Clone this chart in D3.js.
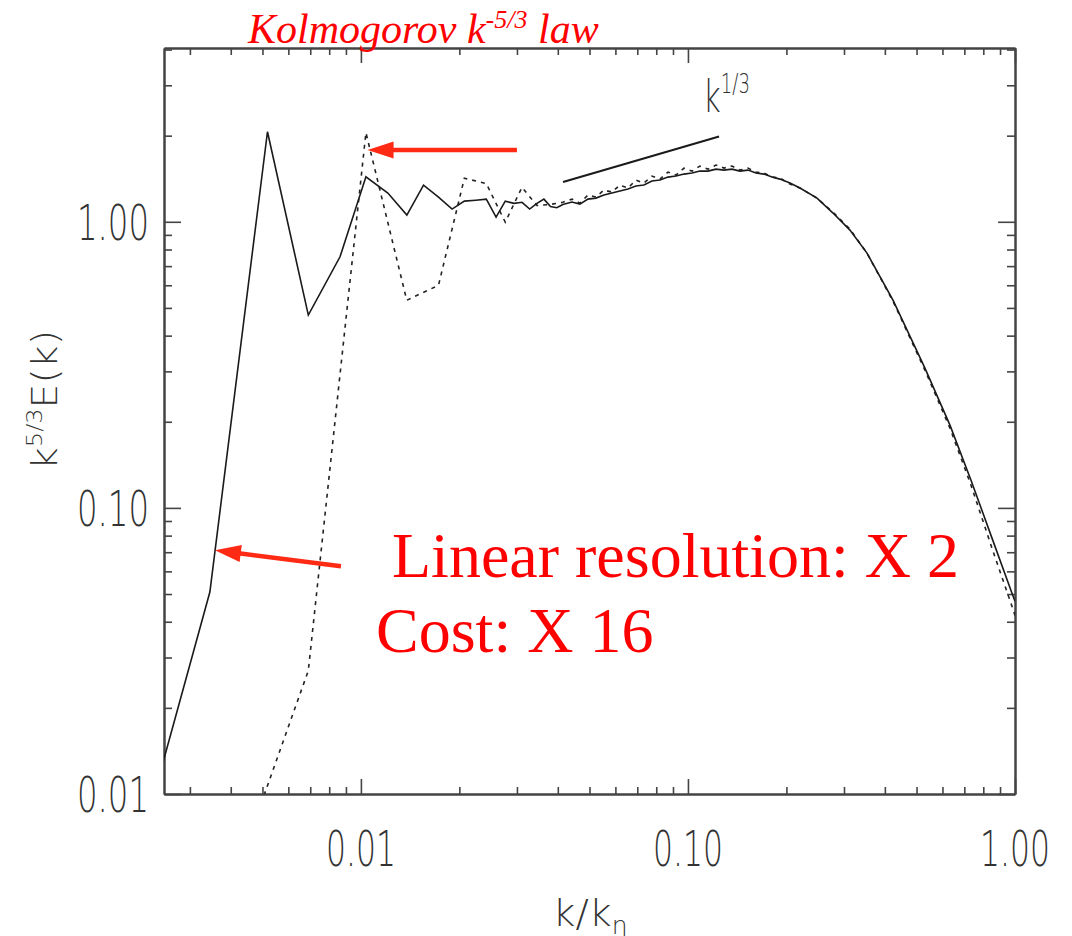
<!DOCTYPE html>
<html lang="en">
<head>
    <meta charset="utf-8">
    <title>Kolmogorov spectrum</title>
    <script src="https://d3js.org/d3.v7.min.js" charset="utf-8"></script>
    <style type="text/css">
        body { margin: 0; background: #fff; }
        .ax .domain { stroke: #444; stroke-width: 2; }
        .ax .tick line { stroke: #444; stroke-width: 1.6; }
        .lbl { font-family: "DejaVu Sans", sans-serif; font-weight: 200; fill: #333; }
        .red { font-family: "Liberation Serif", "Times New Roman", serif; fill: #ff0000; }
    </style>
</head>
<body>
	<svg width="1072" height="936"></svg>
	<script>

	    // higher resolution run (solid)
	    var solidK = [0.001727, 0.003453, 0.00518, 0.006906, 0.008633, 0.01036, 0.01209, 0.01382, 0.01554, 0.01727,
	                  0.019, 0.02072, 0.02245, 0.02418, 0.0259, 0.02763, 0.02936, 0.03109, 0.03281, 0.03454,
	                  0.03627, 0.03799, 0.03972, 0.04145,
	                  0.04419, 0.04673, 0.04945, 0.05232, 0.05535, 0.05855, 0.06194, 0.06554, 0.06934, 0.07334,
	                  0.07761, 0.08211, 0.08686, 0.0919, 0.09723, 0.1029, 0.1088, 0.1151, 0.1218, 0.1289,
	                  0.1363, 0.1442, 0.1526, 0.1614, 0.1708, 0.1807, 0.1911, 0.2051, 0.22,
	                  0.2481, 0.2777, 0.3128, 0.3527, 0.4236, 0.5304, 0.6326, 0.7336, 0.8505, 0.979, 1.0];
	    var solidE = [0.00286, 0.0508, 2.064, 0.472, 0.7545, 1.436, 1.26, 1.055, 1.343, 1.22,
	                  1.108, 1.181, 1.19, 1.2, 1.039, 1.181, 1.16, 1.17, 1.108, 1.16,
	                  1.2, 1.13, 1.12, 1.15,
	                  1.172, 1.153, 1.20, 1.21, 1.24, 1.26, 1.281, 1.301, 1.333, 1.344,
	                  1.388, 1.399, 1.433, 1.445, 1.468, 1.48, 1.504, 1.504, 1.528, 1.516,
	                  1.528, 1.504, 1.516, 1.48, 1.468, 1.433, 1.41, 1.366, 1.312,
	                  1.21, 1.073, 0.935, 0.777, 0.532, 0.308, 0.1946, 0.125, 0.0784, 0.0503, 0.0472];

	    // lower resolution run (dashed)
	    var dashK = [0.003453, 0.006906, 0.01036, 0.01381, 0.01727, 0.02072, 0.02418, 0.02763, 0.03108, 0.03453,
	                 0.03799, 0.04144,
	                 0.04419, 0.04673, 0.04945, 0.05232, 0.05535, 0.05855, 0.06194, 0.06554, 0.06934, 0.07334,
	                 0.07761, 0.08211, 0.08686, 0.0919, 0.09723, 0.1029, 0.1088, 0.1151, 0.1218, 0.1289,
	                 0.1363, 0.1442, 0.1526, 0.1614, 0.1708, 0.1807, 0.1911, 0.2051, 0.22,
	                 0.2481, 0.2777, 0.3128, 0.3527, 0.4236, 0.5304, 0.6326, 0.7336, 0.8505, 0.979, 1.0];
	    var dashE = [0.0029, 0.027, 2.05, 0.532, 0.60, 1.42, 1.36, 0.997, 1.32, 1.14,
	                 1.15, 1.17,
	                 1.20, 1.162, 1.24, 1.22, 1.291, 1.27, 1.344, 1.312, 1.399, 1.366,
	                 1.445, 1.41, 1.492, 1.457, 1.541, 1.504, 1.566, 1.528, 1.579, 1.541,
	                 1.566, 1.516, 1.541, 1.492, 1.48, 1.433, 1.422, 1.355, 1.312,
	                 1.21, 1.08, 0.943, 0.777, 0.528, 0.303, 0.190, 0.1201, 0.0723, 0.0453, 0.0421];

	    var xTicks = [0.01, 0.1, 1],
	        xLabels = ["0.01", "0.10", "1.00"];
	    var yTicks = [0.01, 0.1, 1],
	        yLabels = ["0.01", "0.10", "1.00"];

	    // k^(1/3) reference segment
	    var refK = [0.0415, 0.1245],
	        refE0 = 1.377;

	    var svg = d3.select("svg"),
	        pLeft = 164, pTop = 48, pRight = 1015, pBottom = 794;

	    var xScale = d3.scaleLog().domain([0.0025, 1]).range([pLeft, pRight]),
	        yScale = d3.scaleLog().domain([0.01, 4.05]).range([pBottom, pTop]);

	    function minors(lo, hi) {
	        var out = [];
	        for (var p = -3; p <= 1; p++)
	            for (var m = 2; m <= 9; m++) {
	                var v = +(m * Math.pow(10, p)).toPrecision(6);
	                if (v > lo && v < hi) out.push(v);
	            }
	        return out;
	    }
	    var xMin = minors(0.0025, 1), yMin = minors(0.01, 4.05);

	    svg.append("clipPath").attr("id", "clip")
	       .append("rect").attr("x", pLeft).attr("y", pTop)
	       .attr("width", pRight - pLeft).attr("height", pBottom - pTop);

	    // box axes, ticks pointing inward on all four sides
	    function axes(axisFn, scale, tr, major, minor, big, small) {
	        svg.append("g").attr("class", "ax").attr("transform", tr)
	           .call(axisFn(scale).tickValues(major).tickSize(-big).tickSizeOuter(0).tickFormat(""));
	        svg.append("g").attr("class", "ax").attr("transform", tr)
	           .call(axisFn(scale).tickValues(minor).tickSize(-small).tickSizeOuter(0).tickFormat(""));
	    }
	    axes(d3.axisBottom, xScale, "translate(0," + pBottom + ")", xTicks, xMin, 15, 7);
	    axes(d3.axisTop, xScale, "translate(0," + pTop + ")", xTicks, xMin, 15, 7);
	    axes(d3.axisLeft, yScale, "translate(" + pLeft + ",0)", yTicks, yMin, 17, 8);
	    axes(d3.axisRight, yScale, "translate(" + pRight + ",0)", yTicks, yMin, 17, 8);

	    svg.selectAll(".xl").data(xTicks).enter().append("text")
	       .attr("class", "lbl")
	       .attr("x", function(d) { return xScale(d); })
	       .attr("y", 866)
	       .attr("text-anchor", "middle")
	       .attr("font-size", 49)
	       .attr("textLength", 70).attr("lengthAdjust", "spacingAndGlyphs")
	       .text(function(d, i) { return xLabels[i]; });

	    svg.selectAll(".yl").data(yTicks).enter().append("text")
	       .attr("class", "lbl")
	       .attr("x", 149)
	       .attr("y", function(d) { return yScale(d) + 18; })
	       .attr("text-anchor", "end")
	       .attr("font-size", 49)
	       .attr("textLength", 72).attr("lengthAdjust", "spacingAndGlyphs")
	       .text(function(d, i) { return yLabels[i]; });

	    // axis titles
	    var yt = svg.append("text").attr("class", "lbl")
	        .attr("transform", "translate(57,400) rotate(-90)")
	        .attr("text-anchor", "middle").attr("font-size", 36)
	        .attr("textLength", 140).attr("lengthAdjust", "spacingAndGlyphs");
	    yt.append("tspan").text("k");
	    yt.append("tspan").attr("font-size", 22).attr("dy", -15).text("5/3");
	    yt.append("tspan").attr("dy", 15).text("E(k)");

	    var xt = svg.append("text").attr("class", "lbl")
	        .attr("x", 590).attr("y", 926)
	        .attr("text-anchor", "middle").attr("font-size", 38)
	        .attr("textLength", 75).attr("lengthAdjust", "spacingAndGlyphs");
	    xt.append("tspan").text("k/k");
	    xt.append("tspan").attr("font-size", 24).attr("dy", 8).text("η");

	    // curves
	    var line = d3.line()
	        .x(function(d) { return xScale(d[0]); })
	        .y(function(d) { return yScale(d[1]); });

	    var plot = svg.append("g").attr("clip-path", "url(#clip)");

	    plot.append("path")
	        .datum(d3.zip(dashK, dashE))
	        .attr("fill", "none").attr("stroke", "#222").attr("stroke-width", 1.6)
	        .attr("stroke-dasharray", "4,5")
	        .attr("d", line);

	    plot.append("path")
	        .datum(d3.zip(solidK, solidE))
	        .attr("fill", "none").attr("stroke", "#1a1a1a").attr("stroke-width", 1.6)
	        .attr("d", line);

	    plot.append("path")
	        .datum(refK.map(function(k) { return [k, refE0 * Math.pow(k / refK[0], 1 / 3)]; }))
	        .attr("fill", "none").attr("stroke", "#1a1a1a").attr("stroke-width", 2)
	        .attr("d", line);

	    var kt = svg.append("text").attr("class", "lbl")
	        .attr("x", xScale(0.1112)).attr("y", yScale(2.419))
	        .attr("font-size", 44)
	        .attr("textLength", 47).attr("lengthAdjust", "spacingAndGlyphs");
	    kt.append("tspan").text("k");
	    kt.append("tspan").attr("font-size", 26).attr("dy", -19).text("1/3");

	    // red annotations
	    function arrow(tail, tip) {
	        var x0 = xScale(tail[0]), y0 = yScale(tail[1]),
	            x1 = xScale(tip[0]), y1 = yScale(tip[1]),
	            dx = x1 - x0, dy = y1 - y0, len = Math.sqrt(dx * dx + dy * dy),
	            ux = dx / len, uy = dy / len, hl = 26, hw = 8.5,
	            bx = x1 - ux * hl, by = y1 - uy * hl;
	        svg.append("line")
	           .attr("x1", x0).attr("y1", y0).attr("x2", bx + ux * 2).attr("y2", by + uy * 2)
	           .attr("stroke", "#ff2a14").attr("stroke-width", 4.5);
	        svg.append("polygon")
	           .attr("points", [[x1, y1], [bx - uy * hw, by + ux * hw], [bx + uy * hw, by - ux * hw]].join(" "))
	           .attr("fill", "#ff2a14");
	    }
	    arrow([0.030, 1.781], [0.01048, 1.781]);
	    arrow([0.00869, 0.0625], [0.003578, 0.0711]);

	    var tt = svg.append("text").attr("class", "red")
	        .attr("x", 248).attr("y", 43)
	        .attr("font-size", 42).attr("font-style", "italic");
	    tt.append("tspan").text("Kolmogorov k");
	    tt.append("tspan").attr("font-size", 26).attr("dy", -15).text("-5/3");
	    tt.append("tspan").attr("dy", 15).text(" law");

	    svg.append("text").attr("class", "red")
	       .attr("x", 392).attr("y", 577).attr("font-size", 64)
	       .text("Linear resolution: X 2");
	    svg.append("text").attr("class", "red")
	       .attr("x", 376).attr("y", 652).attr("font-size", 64)
	       .text("Cost: X 16");

	</script>
</body>
</html>
